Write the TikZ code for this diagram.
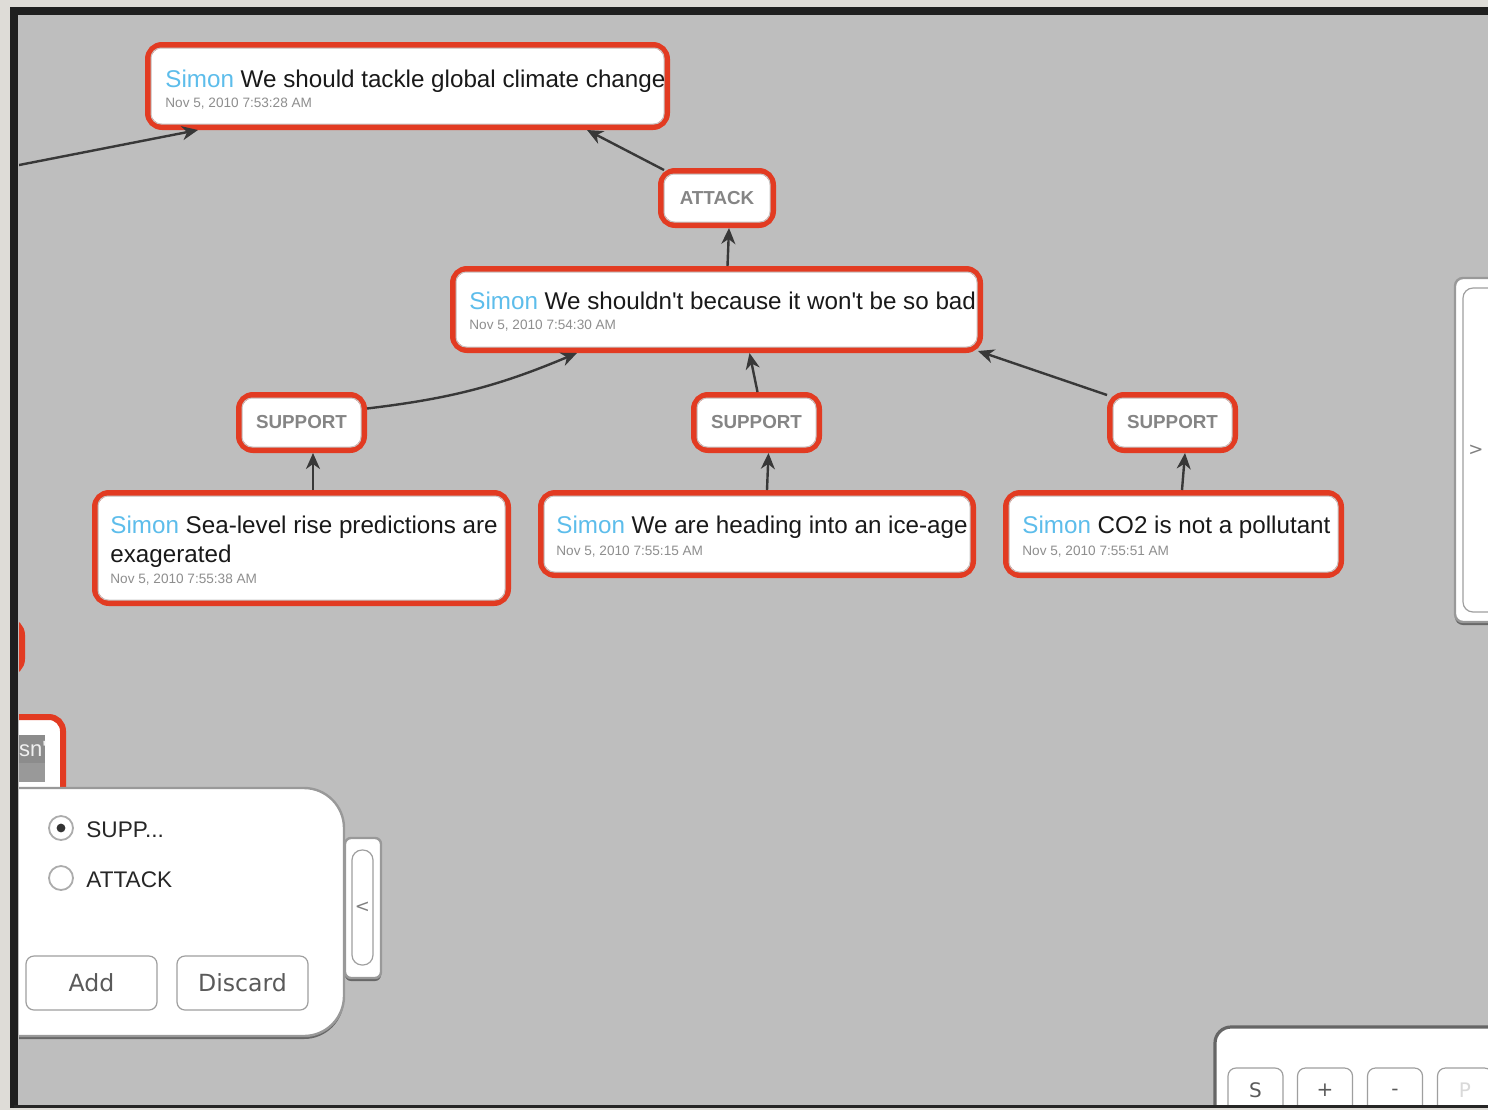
\documentclass[tikz,border=0pt]{standalone}
\usepackage{fontspec}
\setmainfont{Liberation Sans}
\newfontfamily\dejavu{DejaVu Sans}
\usetikzlibrary{arrows.meta,fit,calc,shadows}
\definecolor{canvas}{HTML}{BEBEBE}
\definecolor{outerc}{HTML}{DEDCD7}
\definecolor{redb}{HTML}{E23B22}
\definecolor{simonc}{HTML}{5DBDEB}
\definecolor{conn}{HTML}{383838}
\definecolor{lbl}{HTML}{858585}
\definecolor{datec}{HTML}{8E8E8E}
\definecolor{btntxt}{HTML}{5A5A5A}
\tikzset{
  abox/.style={draw=redb, line width=3pt, rounded corners=7pt, fill=white, inner sep=0pt},
  ainner/.style={draw=gray!45, line width=0.5pt, rounded corners=5pt},
  title/.style={anchor=base west, inner sep=0pt, font=\fontsize{12.1}{14}\selectfont, text=black!90},
  datel/.style={anchor=base west, inner sep=0pt, font=\fontsize{6.8}{8}\selectfont, text=datec},
  rel/.style={inner sep=0pt, font=\bfseries\fontsize{9.4}{11}\selectfont, text=lbl},
  conarrow/.style={draw=conn, line width=1.2pt, -{Stealth[length=8pt,width=7pt,inset=2.5pt]}},
  pbtn/.style={draw=gray!75, line width=0.6pt, rounded corners=4pt, fill=white},
  pbtext/.style={inner sep=0pt, font=\dejavu\fontsize{11.8}{13}\selectfont, text=btntxt},
  radio/.style={draw=gray!65, line width=0.9pt, fill=white},
  plabel/.style={anchor=base west, inner sep=0pt, font=\fontsize{11.3}{13}\selectfont, text=black!85},
  tabtxt/.style={inner sep=0pt, font=\dejavu\fontsize{9}{10}\selectfont, text=gray},
  shad/.style={drop shadow={shadow xshift=0pt, shadow yshift=-1.5pt, opacity=0.45, fill=black}},
  pedge/.style={draw=black!40, line width=1.2pt}
}
\newcommand\argbox[5]{%
  \node[abox, fit={(#2,#3) (#4,#5)}] (#1) {};
  \draw[ainner] ({#2+3},{#3+3}) rectangle ({#4-3},{#5-3});
}
\begin{document}
\begin{tikzpicture}[x=0.5pt, y=-0.5pt]
\useasboundingbox (0,0) rectangle (1488,1110);
\fill[outerc] (0,0) rectangle (1488,1110);
\fill[canvas] (18,12) rectangle (1488,1106);
\begin{scope}
\clip (19,13) rectangle (1488,1105);

% partial nodes at the left edge
\draw[abox] (-60,621) rectangle (22,673);
\draw[abox] (-60,717) rectangle (63,830);
\fill[black!45] (18,735) rectangle (45,782);
\fill[black!40] (18,763) rectangle (45,782);
\node[anchor=base east, inner sep=0pt, text=gray!12, font=\fontsize{11}{13}\selectfont] (snt) at (47,756) {sn\textquotesingle};

% argument boxes
\argbox{n1}{148}{45}{667}{127}
\argbox{att}{661}{171}{773}{225}
\argbox{n2}{453}{269}{980}{350}
\argbox{s1}{239}{395}{364}{450}
\argbox{s2}{694}{395}{819}{450}
\argbox{s3}{1110}{395}{1235}{450}
\argbox{n3}{95}{493}{508}{603}
\argbox{n4}{541}{493}{973}{575}
\argbox{n5}{1006}{493}{1341}{575}

% texts
\node[title] (t1) at (165,87) {\textcolor{simonc}{Simon} We should tackle global climate change};
\node[datel] (d1) at (165,107) {Nov 5, 2010 7:53:28 AM};
\node[title] (t2) at (469,309) {\textcolor{simonc}{Simon} We shouldn\textquotesingle t because it won\textquotesingle t be so bad};
\node[datel] (d2) at (469,329) {Nov 5, 2010 7:54:30 AM};
\node[title] (t3) at (110,533) {\textcolor{simonc}{Simon} Sea-level rise predictions are};
\node[title] (t3b) at (110,562) {exagerated};
\node[datel] (d3) at (110,583) {Nov 5, 2010 7:55:38 AM};
\node[title] (t4) at (556,533) {\textcolor{simonc}{Simon} We are heading into an ice-age};
\node[datel] (d4) at (556,555) {Nov 5, 2010 7:55:15 AM};
\node[title] (t5) at (1022,533) {\textcolor{simonc}{Simon} CO2 is not a pollutant};
\node[datel] (d5) at (1022,555) {Nov 5, 2010 7:55:51 AM};

\node[rel] (la) at (att.center) {ATTACK};
\node[rel] (l1) at (s1.center) {SUPPORT};
\node[rel] (l2) at (s2.center) {SUPPORT};
\node[rel] (l3) at (s3.center) {SUPPORT};

% connectors
\coordinate (lin) at (14,166);
\draw[conarrow] (lin) -- ($(n1.south west)+(53,0)$);
\draw[conarrow] ($(att.north west)+(6,2)$) -- ($(n1.south east)+(-83,0)$);
\draw[conarrow] ($(n2.north)+(11,0)$) -- ($(att.south)+(12,0)$);
\draw[conarrow] ($(s1.east)+(0,-14)$) to[bend right=8] ($(n2.south west)+(127,0)$);
\draw[conarrow] ($(s2.north)+(1,0)$) -- ($(n2.south)+(33,0)$);
\draw[conarrow] ($(s3.north west)+(0,3)$) -- ($(n2.south east)+(-5,-2)$);
\draw[conarrow] ($(n3.north)+(11.5,0)$) -- ($(s1.south)+(11.5,0)$);
\draw[conarrow] ($(n4.north)+(10,0)$) -- ($(s2.south)+(12,0)$);
\draw[conarrow] ($(n5.north)+(8.5,0)$) -- ($(s3.south)+(12.5,0)$);

% left editing panel
\filldraw[fill=white, pedge, rounded corners=20pt, shad] (-40,788) rectangle (344,1036);
\node[radio, circle, minimum size=12pt] (r1) at (61,828) {};
\fill[black!80] (r1.center) circle[radius=2.2pt];
\node[radio, circle, minimum size=12pt] (r2) at (61,878) {};
\node[plabel] (pl1) at (86,837) {SUPP...};
\node[plabel] (pl2) at (86,887) {ATTACK};
\node[pbtn, minimum width=65.5pt, minimum height=27pt] (badd) at (91.5,983) {};
\node[pbtext] at (badd.center) {Add};
\node[pbtn, minimum width=65.5pt, minimum height=27pt] (bdis) at (242.5,983) {};
\node[pbtext] at (bdis.center) {Discard};
% tab of the panel
\filldraw[fill=white, pedge, rounded corners=3pt, shad] (345,838) rectangle (381,978);
\node[pbtn, rounded corners=5pt, minimum width=10.5pt, minimum height=57.5pt] (ltab) at (362.5,907.5) {};
\node[tabtxt] at (ltab.center) {<};

% right tab
\filldraw[fill=white, pedge, rounded corners=4pt, shad] (1455,278) rectangle (1500,622);
\draw[draw=gray!75, line width=0.6pt, rounded corners=5pt] (1463,288) rectangle (1500,612);
\node[tabtxt] (rtab) at (1476,450) {>};

% bottom right panel
\filldraw[fill=white, draw=black!60, line width=1.6pt, rounded corners=8pt, shad] (1215,1027) rectangle (1510,1130);
\node[pbtn, minimum width=27.5pt, minimum height=24pt] (bs) at (1255.5,1092) {};
\node[pbtext, font=\dejavu\fontsize{10}{12}\selectfont] at (1255.5,1090) {S};
\node[pbtn, minimum width=27.5pt, minimum height=24pt] (bp) at (1325,1092) {};
\node[pbtext, font=\dejavu\fontsize{10}{12}\selectfont] at (1325,1090) {+};
\node[pbtn, minimum width=27.5pt, minimum height=24pt] (bm) at (1395,1092) {};
\node[pbtext, font=\dejavu\fontsize{10}{12}\selectfont] at (1395,1092) {-};
\node[pbtn, minimum width=27.5pt, minimum height=24pt] (bpp) at (1465,1092) {};
\node[pbtext, font=\dejavu\fontsize{10}{12}\selectfont, text=gray!30] at (1465,1090) {P};
\end{scope}

% frame
\draw[black!88, line width=4pt] (14,1108) -- (14,11) -- (1488,11);
\draw[black!85, line width=1.5pt] (14,1106) -- (1488,1106);
\end{tikzpicture}
\end{document}
